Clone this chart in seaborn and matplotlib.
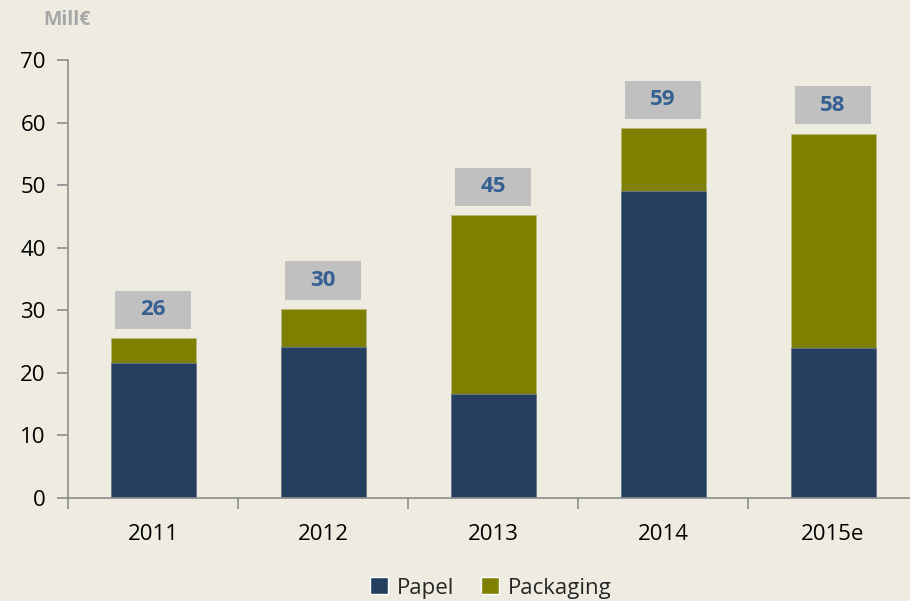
import matplotlib
matplotlib.use("Agg")
import matplotlib.pyplot as plt
import pandas as pd
import seaborn as sns
from matplotlib.patches import Patch, Rectangle

# datos (Mill€)
years = ["2011", "2012", "2013", "2014", "2015e"]
papel = [21.6, 24.1, 16.7, 49.1, 24.0]
packaging = [3.9, 6.1, 28.5, 10.0, 34.2]
total_labels = ["26", "30", "45", "59", "58"]

BG = "#EEECE1"
NAVY = "#243F60"
OLIVE = "#808000"

df = pd.DataFrame({"year": years, "Papel": papel, "Packaging": packaging})
df["total"] = df["Papel"] + df["Packaging"]

sns.set_theme(style="white")
plt.rcParams["font.family"] = ["Open Sans", "DejaVu Sans"]

fig = plt.figure(figsize=(9.1, 6.01), dpi=100, facecolor=BG)
ax = fig.add_axes([68 / 910, 103 / 601, 850 / 910, 438 / 601])
ax.set_facecolor(BG)

# stacked: total (olive) first, then papel on top of it
sns.barplot(data=df, x="year", y="total", color=OLIVE, width=0.5,
            saturation=1, ax=ax, edgecolor="#B8B87A", linewidth=0.6)
sns.barplot(data=df, x="year", y="Papel", color=NAVY, width=0.5,
            saturation=1, ax=ax, edgecolor="#6A7A8A", linewidth=0.6)

# etiquetas de total en caja gris
box_w, box_h, gap = 0.45, 6.1, 1.5
for i, (t, lab) in enumerate(zip(df["total"], total_labels)):
    ax.add_patch(Rectangle((i - box_w / 2, t + gap), box_w, box_h,
                           facecolor="#C0C0C0", edgecolor="none", zorder=3))
    ax.text(i, t + gap + box_h / 2, lab, ha="center", va="center",
            fontsize=16, fontweight="bold", color="#366092", zorder=4)

ax.set_ylim(0, 70)
ax.set_xlim(-0.5, 4.5)
ax.set_yticks(range(0, 71, 10))
ax.set_xlabel("")
ax.set_ylabel("")

for s in ["top", "right"]:
    ax.spines[s].set_visible(False)
for s in ["left", "bottom"]:
    ax.spines[s].set_color("#8C8C8C")
    ax.spines[s].set_linewidth(1.2)

ax.tick_params(axis="y", length=8, width=1.2, color="#8C8C8C", pad=8,
               labelsize=16, labelcolor="black", left=True)
ax.set_xticks([x - 0.5 for x in range(6)], minor=True)
ax.tick_params(axis="x", which="major", length=0, pad=19, labelsize=16,
               labelcolor="black")
ax.tick_params(axis="x", which="minor", length=8, width=1.2, color="#8C8C8C",
               bottom=True)

fig.text(43 / 910, 1 - 20 / 601, "Mill€", fontsize=14, fontweight="bold",
         color="#A6A6A6", va="center", ha="left")

handles = [Patch(facecolor=NAVY, label="Papel"),
           Patch(facecolor=OLIVE, label="Packaging")]
fig.legend(handles=handles, loc="center", bbox_to_anchor=(491 / 910, 1 - 588 / 601),
           ncol=2, frameon=False, fontsize=16, handlelength=0.8,
           handleheight=0.8, handletextpad=0.4, columnspacing=1.2)

fig.savefig("out.png", dpi=100, facecolor=BG)
